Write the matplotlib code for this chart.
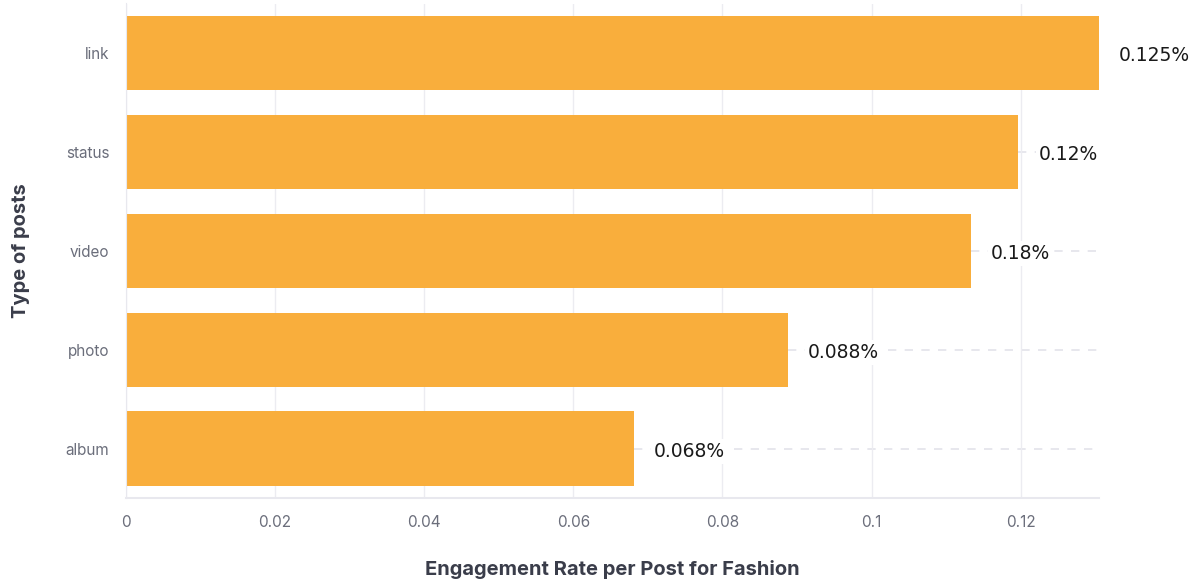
import matplotlib
matplotlib.use("Agg")
import matplotlib.pyplot as plt

categories = ["link", "status", "video", "photo", "album"]
values = [0.1305, 0.1197, 0.1133, 0.0888, 0.0681]
bar_labels = ["0.125%", "0.12%", "0.18%", "0.088%", "0.068%"]
xticks = [0, 0.02, 0.04, 0.06, 0.08, 0.1, 0.12]
xtick_labels = ["0", "0.02", "0.04", "0.06", "0.08", "0.1", "0.12"]

W, H = 1193, 584
fig = plt.figure(figsize=(W / 100, H / 100), dpi=100)
ax = fig.add_axes([126 / W, 1 - 498 / H, (1099 - 126) / W, (498 - 3.5) / H])

xmax = 0.1305
ypos = list(range(len(categories)))
ax.barh(ypos, values, height=0.75, color="#F9AE3C", zorder=2)
ax.set_ylim(len(categories) - 0.5, -0.5)
ax.set_xlim(0, xmax)
ax.set_yticks(ypos)
ax.set_yticklabels(categories)
ax.set_xticks(xticks)
ax.set_xticklabels(xtick_labels)
ax.tick_params(axis="both", length=0, colors="#6B6E7B", labelsize=11)
ax.tick_params(axis="x", pad=12)
ax.tick_params(axis="y", pad=12)
for lab in ax.get_xticklabels() + ax.get_yticklabels():
    lab.set_family("Inter")

ax.grid(axis="x", color="#ECECF1", linewidth=1, zorder=0)
for s in ["top", "right"]:
    ax.spines[s].set_visible(False)
ax.spines["left"].set_color("#E8E8EE")
ax.spines["bottom"].set_color("#E8E8EE")
ax.spines["bottom"].set_linewidth(1.5)

ax.set_xlabel("Engagement Rate per Post for Fashion", fontsize=14.5, fontweight="bold",
              color="#3A3D4A", family="Inter", labelpad=22)
ax.set_ylabel("Type of posts", fontsize=14.5, fontweight="bold", color="#3A3D4A",
              family="Inter", labelpad=26)

for y, v, t in zip(ypos, values, bar_labels):
    ax.plot([v, xmax], [y, y], linestyle=(0, (5, 5)), color="#E3E3EA",
            linewidth=1.2, zorder=1, clip_on=False)
    ax.annotate(t, xy=(v, y), xytext=(20, -3), textcoords="offset pixels",
                va="center", ha="left", fontsize=13.5, color="#1A1A1A",
                family="DejaVu Sans", zorder=3, annotation_clip=False,
                bbox=dict(boxstyle="square,pad=0.15", fc="white", ec="none"))

fig.savefig("out.png", dpi=100)
